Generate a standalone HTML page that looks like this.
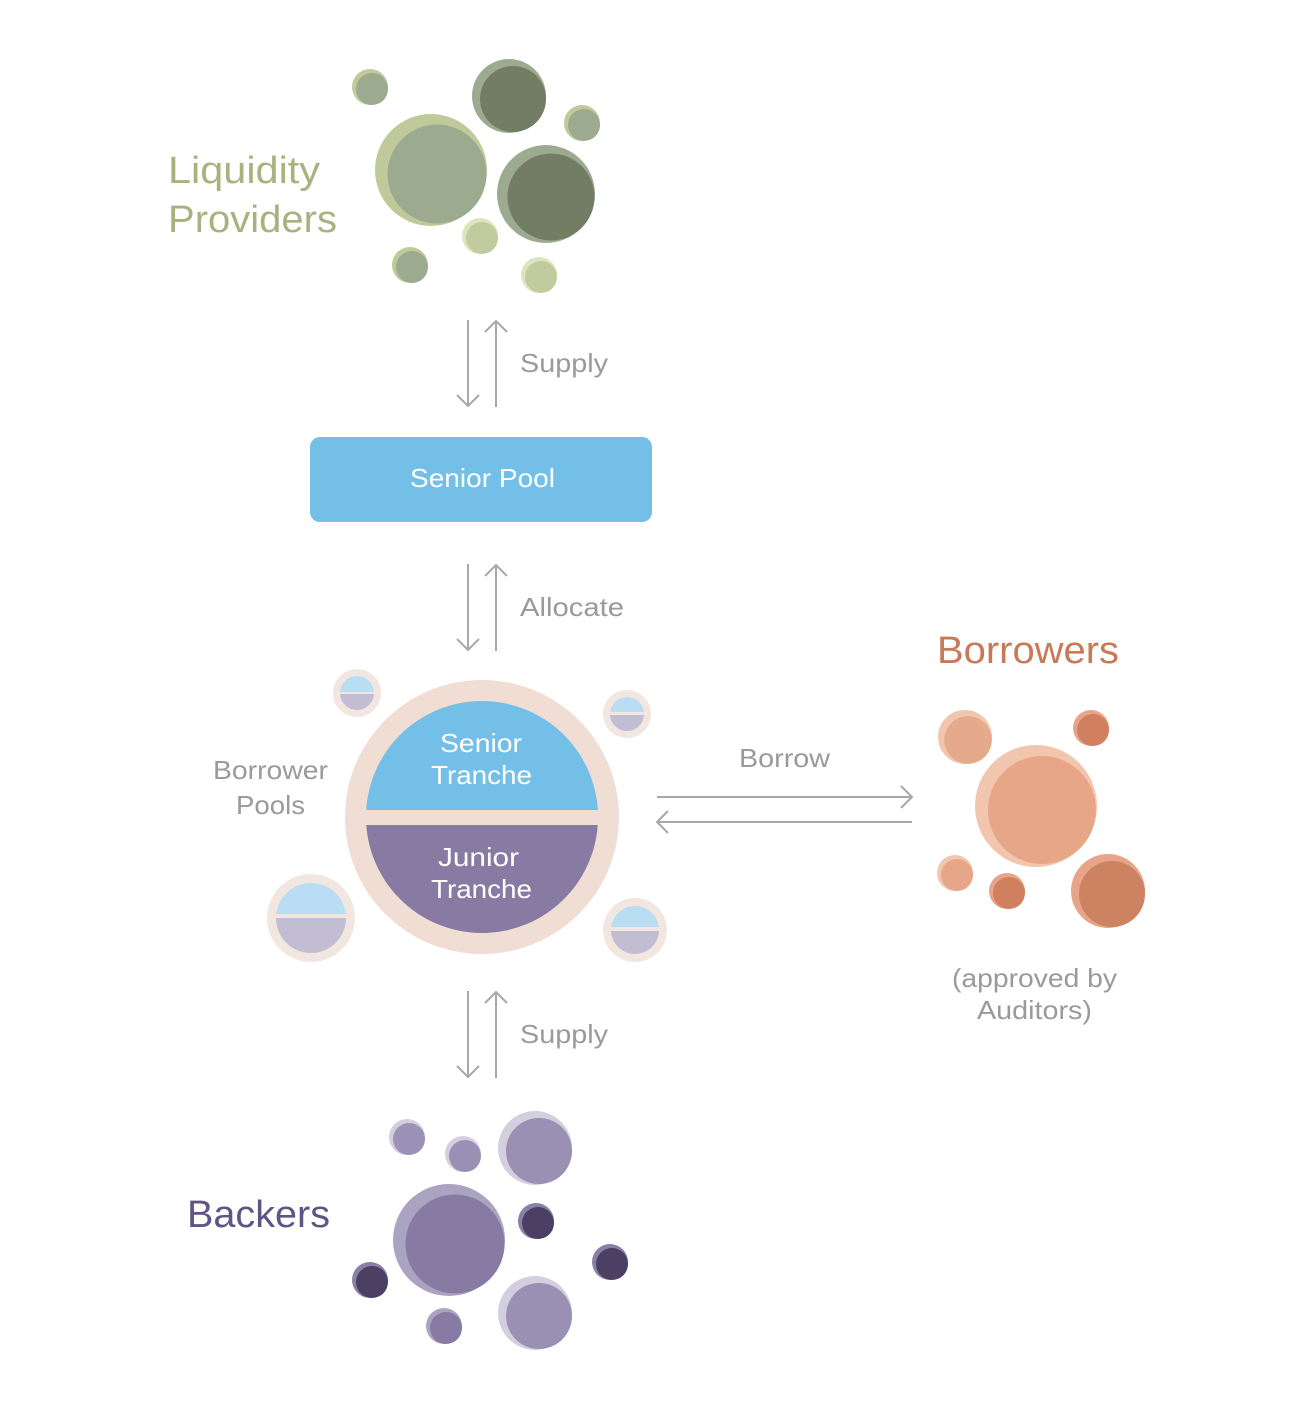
<!DOCTYPE html>
<html><head><meta charset="utf-8"><style>
html,body{margin:0;padding:0;background:#fff;}
svg{display:block;}
text{font-family:"Liberation Sans",sans-serif;}
</style></head><body>
<svg width="1302" height="1416" viewBox="0 0 1302 1416" xmlns="http://www.w3.org/2000/svg">
<!-- Liquidity providers -->
<g>
<circle cx="370" cy="87" r="18" fill="#c0c99a"/><circle cx="372" cy="89" r="16" fill="#9cab8f"/>
<circle cx="509" cy="96" r="37" fill="#9cab8f"/><circle cx="513" cy="99" r="33" fill="#727d64"/>
<circle cx="582" cy="123" r="18" fill="#c0c99a"/><circle cx="584" cy="125" r="16" fill="#9cab8f"/>
<circle cx="431" cy="170" r="56" fill="#c0c99a"/><circle cx="437" cy="174" r="49.5" fill="#9cab8f"/>
<circle cx="546" cy="194" r="49" fill="#9cab8f"/><circle cx="551" cy="197" r="43.5" fill="#727d64"/>
<circle cx="480" cy="236" r="18" fill="#dde5bf"/><circle cx="482" cy="238" r="16" fill="#c2cb9d"/>
<circle cx="410" cy="265" r="18" fill="#c0c99a"/><circle cx="412" cy="267" r="16" fill="#9cab8f"/>
<circle cx="539" cy="275" r="18" fill="#dde5bf"/><circle cx="541" cy="277" r="16" fill="#c2cb9d"/>
</g>
<text x="168" y="183" font-size="38" fill="#a9b27e" textLength="152" lengthAdjust="spacingAndGlyphs">Liquidity</text>
<text x="168" y="232" font-size="38" fill="#a9b27e" textLength="169" lengthAdjust="spacingAndGlyphs">Providers</text>

<!-- arrows -->
<g stroke="#a8a8a8" stroke-width="2" fill="none">
<line x1="468" y1="320" x2="468" y2="406"/><polyline points="457,395 468,406 479,395"/>
<line x1="496" y1="407" x2="496" y2="321"/><polyline points="485,332 496,321 507,332"/>
<line x1="468" y1="564" x2="468" y2="650"/><polyline points="457,639 468,650 479,639"/>
<line x1="496" y1="651" x2="496" y2="565"/><polyline points="485,576 496,565 507,576"/>
<line x1="468" y1="991" x2="468" y2="1077"/><polyline points="457,1066 468,1077 479,1066"/>
<line x1="496" y1="1078" x2="496" y2="992"/><polyline points="485,1003 496,992 507,1003"/>
<line x1="657" y1="797" x2="912" y2="797"/><polyline points="901,786 912,797 901,808"/>
<line x1="912" y1="822" x2="657" y2="822"/><polyline points="668,811 657,822 668,833"/>
</g>
<text x="520" y="372" font-size="26" fill="#9a9a9a" textLength="88" lengthAdjust="spacingAndGlyphs">Supply</text>
<text x="520" y="616" font-size="26" fill="#9a9a9a" textLength="104" lengthAdjust="spacingAndGlyphs">Allocate</text>
<text x="520" y="1043" font-size="26" fill="#9a9a9a" textLength="88" lengthAdjust="spacingAndGlyphs">Supply</text>
<text x="739" y="767" font-size="26" fill="#9a9a9a" textLength="91" lengthAdjust="spacingAndGlyphs">Borrow</text>

<!-- Senior pool -->
<rect x="310" y="437" width="342" height="85" rx="10" fill="#74bfe8"/>
<text x="410" y="487" font-size="26" fill="#fff" textLength="145" lengthAdjust="spacingAndGlyphs">Senior Pool</text>

<!-- center -->
<defs><clipPath id="cc"><circle cx="482" cy="817" r="116"/></clipPath></defs>
<circle cx="482" cy="817" r="137" fill="#f0ddd4"/>
<g clip-path="url(#cc)">
<rect x="360" y="690" width="250" height="120" fill="#74bfe8"/>
<rect x="360" y="825" width="250" height="120" fill="#877ba3"/>
</g>
<text x="440" y="752" font-size="26" fill="#fff" textLength="82" lengthAdjust="spacingAndGlyphs">Senior</text>
<text x="431" y="784" font-size="26" fill="#fff" textLength="101" lengthAdjust="spacingAndGlyphs">Tranche</text>
<text x="438" y="866" font-size="26" fill="#fff" textLength="81" lengthAdjust="spacingAndGlyphs">Junior</text>
<text x="431" y="898" font-size="26" fill="#fff" textLength="101" lengthAdjust="spacingAndGlyphs">Tranche</text>

<!-- small pools -->
<defs>
<clipPath id="p1"><circle cx="357" cy="693" r="17"/></clipPath>
<clipPath id="p2"><circle cx="627" cy="714" r="17"/></clipPath>
<clipPath id="p3"><circle cx="311" cy="918" r="35"/></clipPath>
<clipPath id="p4"><circle cx="635" cy="930" r="24"/></clipPath>
</defs>
<circle cx="357" cy="693" r="24" fill="#f2e6e1"/>
<g clip-path="url(#p1)"><rect x="330" y="670" width="60" height="22" fill="#b9def3"/><rect x="330" y="694" width="60" height="30" fill="#c2bdd2"/></g>
<circle cx="627" cy="714" r="24" fill="#f2e6e1"/>
<g clip-path="url(#p2)"><rect x="600" y="690" width="60" height="22" fill="#b9def3"/><rect x="600" y="715" width="60" height="30" fill="#c2bdd2"/></g>
<circle cx="311" cy="918" r="44" fill="#f2e6e1"/>
<g clip-path="url(#p3)"><rect x="270" y="880" width="90" height="34" fill="#b9def3"/><rect x="270" y="918" width="90" height="40" fill="#c2bdd2"/></g>
<circle cx="635" cy="930" r="32" fill="#f2e6e1"/>
<g clip-path="url(#p4)"><rect x="605" y="900" width="60" height="27" fill="#b9def3"/><rect x="605" y="931" width="60" height="30" fill="#c2bdd2"/></g>
<text x="213" y="779" font-size="26" fill="#9a9a9a" textLength="115" lengthAdjust="spacingAndGlyphs">Borrower</text>
<text x="236" y="814" font-size="26" fill="#9a9a9a" textLength="69" lengthAdjust="spacingAndGlyphs">Pools</text>

<!-- Borrowers -->
<text x="937" y="663" font-size="38" fill="#c87a58" textLength="182" lengthAdjust="spacingAndGlyphs">Borrowers</text>
<circle cx="965" cy="737" r="27" fill="#f2c6ae"/><circle cx="968" cy="740" r="23.8" fill="#e5a98c"/>
<circle cx="1091" cy="728" r="18" fill="#e7a488"/><circle cx="1093" cy="730" r="16" fill="#d1805f"/>
<circle cx="1036" cy="806" r="61" fill="#f2c6ae"/><circle cx="1042" cy="810" r="54" fill="#e8a688"/>
<circle cx="955" cy="873" r="18" fill="#f2c6ae"/><circle cx="957" cy="875" r="16" fill="#e8a688"/>
<circle cx="1007" cy="891" r="18" fill="#e7a488"/><circle cx="1009" cy="893" r="16" fill="#d1805f"/>
<circle cx="1108" cy="891" r="37" fill="#e7a488"/><circle cx="1112" cy="894" r="33" fill="#cd8262"/>
<text x="952" y="987" font-size="26" fill="#9a9a9a" textLength="165" lengthAdjust="spacingAndGlyphs">(approved by</text>
<text x="977" y="1019" font-size="26" fill="#9a9a9a" textLength="115" lengthAdjust="spacingAndGlyphs">Auditors)</text>

<!-- Backers -->
<text x="187" y="1227" font-size="38" fill="#5e5486" textLength="143" lengthAdjust="spacingAndGlyphs">Backers</text>
<circle cx="407" cy="1137" r="18" fill="#d3cfdf"/><circle cx="409" cy="1139" r="16" fill="#9c91b6"/>
<circle cx="463" cy="1154" r="18" fill="#d3cfdf"/><circle cx="465" cy="1156" r="16" fill="#9990b5"/>
<circle cx="535" cy="1148" r="37" fill="#d3cfdf"/><circle cx="539" cy="1151" r="33" fill="#9a90b3"/>
<circle cx="449" cy="1240" r="56" fill="#aaa3c2"/><circle cx="455" cy="1244" r="49.5" fill="#877ba3"/>
<circle cx="536" cy="1221" r="18" fill="#8a7fa6"/><circle cx="538" cy="1223" r="16" fill="#4b3f63"/>
<circle cx="370" cy="1280" r="18" fill="#8a7fa6"/><circle cx="372" cy="1282" r="16" fill="#4b3f63"/>
<circle cx="610" cy="1262" r="18" fill="#8a7fa6"/><circle cx="612" cy="1264" r="16" fill="#4b3f63"/>
<circle cx="444" cy="1326" r="18" fill="#aaa3c2"/><circle cx="446" cy="1328" r="16" fill="#877ba3"/>
<circle cx="535" cy="1313" r="37" fill="#d3cfdf"/><circle cx="539" cy="1316" r="33" fill="#9a90b3"/>
</svg>
</body></html>
